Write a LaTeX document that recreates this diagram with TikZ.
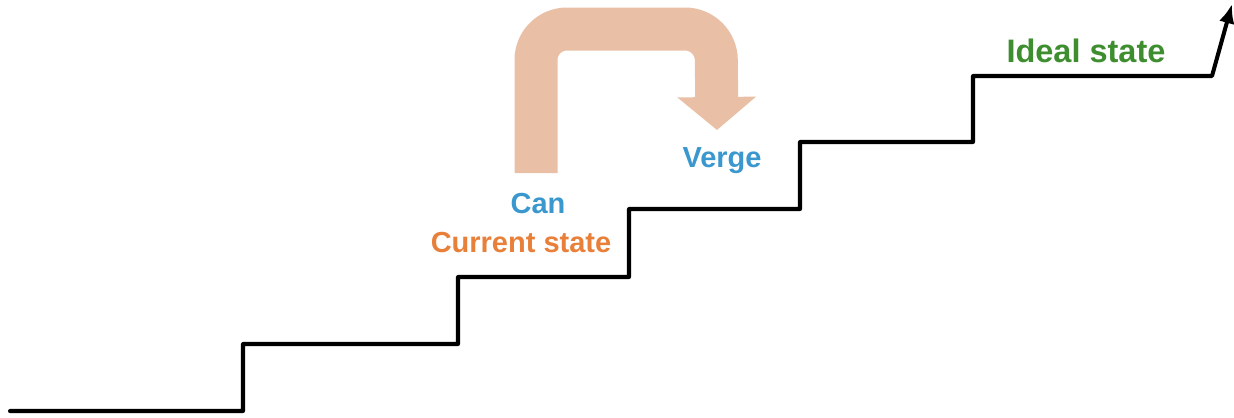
\documentclass[tikz,border=0pt]{standalone}
\usepackage{fontspec}
\setmainfont{Liberation Sans}
\usetikzlibrary{arrows.meta, positioning}

\definecolor{idealgreen}{RGB}{62,142,48}
\definecolor{canblue}{RGB}{58,152,206}
\definecolor{curorange}{RGB}{232,128,58}
\definecolor{bandpeach}{RGB}{233,192,166}

\begin{document}
\begin{tikzpicture}[
    x=0.02cm, y=-0.02cm,
    stair/.style={line width=2.3pt, black, line join=round, line cap=round},
    jump/.style={line width=0.86cm, bandpeach, rounded corners=0.62cm,
        -{Triangle[width=1.54cm, length=0.66cm]}},
    lbl/.style={font=\bfseries\fontsize{16.5}{19}\selectfont, inner sep=0pt, anchor=base},
]
    \useasboundingbox (0,0) rectangle (1234,417);

    % labels
    \node[lbl, text=idealgreen, font=\bfseries\fontsize{18.5}{21}\selectfont] (ideal) at (1086,62) {Ideal state};
    \node[lbl, text=curorange] (cur) at (521,252) {Current state};
    \node[lbl, text=canblue] (can) at (538,213) {Can};
    \node[lbl, text=canblue] (verge) at (722,167) {Verge};

    % stair corners
    \coordinate (s0) at (10,411);
    \coordinate (s1) at (243,411);
    \coordinate (s2) at (243,344);
    \coordinate (s3) at (458,344);
    \coordinate (s4) at (458,277);
    \coordinate (s5) at (629,277);
    \coordinate (s6) at (629,209);
    \coordinate (s7) at (800,209);
    \coordinate (s8) at (800,142);
    \coordinate (s9) at (973,142);
    \coordinate (s10) at (973,76);
    \coordinate (s11) at (1212,76);
    \coordinate (top) at (1232,4);

    \draw[stair, -{Latex[length=11pt, width=9pt]}]
        (s0) -- (s1) -- (s2) -- (s3) -- (s4) -- (s5) -- (s6)
        -- (s7) -- (s8) -- (s9) -- (s10) -- (s11) -- (top);

    % jump from can to verge
    \coordinate (jumpstart) at (536,173);
    \coordinate (jumpend) at (717,130);
    \draw[jump] (jumpstart) |- (716,29) -- (jumpend);

\end{tikzpicture}
\end{document}
